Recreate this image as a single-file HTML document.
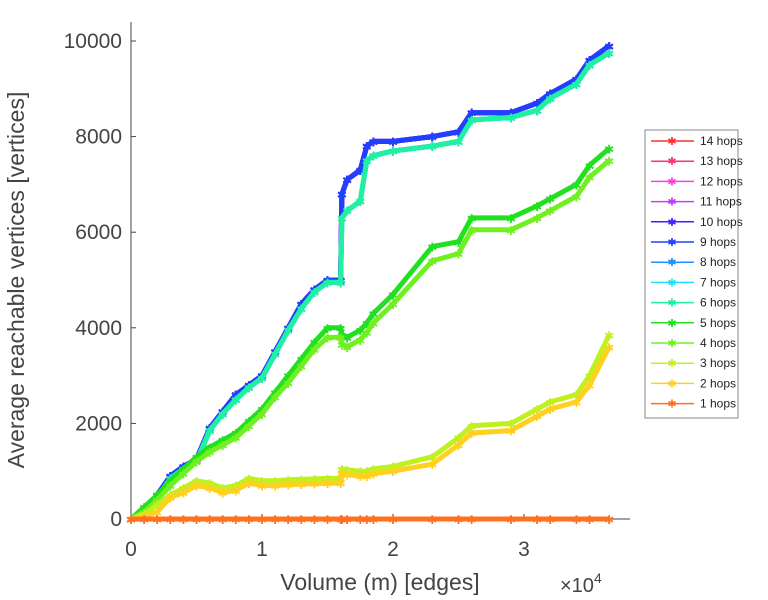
<!DOCTYPE html>
<html><head><meta charset="utf-8"><style>
body{margin:0;background:#fff}
svg{display:block;font-family:"Liberation Sans",sans-serif}
</style></head><body>
<svg id="c" width="768" height="600">
<g id="axes"></g>
<g id="series"></g>
<g id="legend"></g>
</svg>
<script>
const xVals = [0,0.1,0.2,0.3,0.4,0.5,0.6,0.7,0.8,0.9,1.0,1.1,1.2,1.3,1.4,1.5,1.6,1.61,1.65,1.75,1.8,1.85,2.0,2.3,2.5,2.6,2.9,3.1,3.2,3.4,3.5,3.65];
const highA = [0,200,500,900,1100,1250,1900,2250,2600,2800,3000,3500,4000,4500,4800,5000,5000,6800,7100,7300,7800,7900,7900,8000,8100,8500,8500,8700,8900,9200,9600,9900];
const highB = [0,150,450,850,1050,1200,1850,2200,2500,2750,2950,3450,3950,4400,4750,4950,4950,6300,6450,6650,7500,7600,7700,7800,7900,8350,8400,8550,8800,9100,9500,9750];
const g5 = [0,250,500,800,1050,1300,1500,1650,1800,2050,2300,2650,3000,3350,3700,4000,4000,3850,3800,3950,4100,4300,4700,5700,5800,6300,6300,6550,6700,7000,7400,7750];
const g4 = [0,150,400,700,950,1200,1400,1550,1700,1950,2200,2550,2850,3200,3550,3800,3800,3650,3600,3750,3900,4100,4500,5400,5550,6050,6050,6300,6450,6750,7150,7500];
const g3 = [0,100,300,500,650,800,750,650,700,850,800,800,820,830,840,850,850,1050,1030,1000,1000,1050,1100,1300,1700,1950,2000,2300,2450,2600,3000,3850];
const g2 = [0,50,150,450,550,700,650,550,600,750,700,700,720,730,740,750,750,950,930,900,900,950,1000,1150,1550,1800,1850,2150,2300,2450,2800,3600];
const g1 = [0,0,0,0,0,0,0,0,0,0,0,0,0,0,0,0,0,0,0,0,0,0,0,0,0,0,0,0,0,0,0,0];
const labels = ["14 hops","13 hops","12 hops","11 hops","10 hops","9 hops","8 hops","7 hops","6 hops","5 hops","4 hops","3 hops","2 hops","1 hops"];
const colors = ["#ff3030","#ff3080","#ff40e0","#c040ff","#4020ff","#2040ff","#2090ff","#20e0ff","#20f0a0","#20e020","#70f020","#c0f020","#ffd020","#ff7020"];
const seriesData = [highA,highA,highA,highA,highA,highA,highB,highB,highB,g5,g4,g3,g2,g1];
const xTicks = [0,1,2,3];
const yTicks = [0,2000,4000,6000,8000,10000];
const NS="http://www.w3.org/2000/svg";
const X = v => 131 + v*131;
const Y = v => 519 - v*0.0478;
function mk(tag,attrs,parent){const e=document.createElementNS(NS,tag);for(const k in attrs)e.setAttribute(k,attrs[k]);parent.appendChild(e);return e;}
const ax=document.getElementById('axes');
let l=mk('line',{x1:131,y1:22,x2:131,y2:519,stroke:'#444','stroke-width':1},ax);


l=mk('line',{x1:131,y1:519,x2:630,y2:519,stroke:'#444','stroke-width':1},ax);


yTicks.forEach(t=>{
  const tk=mk('line',{x1:131,y1:Y(t),x2:136,y2:Y(t),stroke:'#444'},ax);
  
  
  const tx=mk('text',{x:122,y:Y(t)+7,'text-anchor':'end','font-size':21,fill:'#444'},ax);
  tx.textContent=t;
  
  
});
xTicks.forEach(t=>{
  const tk=mk('line',{x1:X(t),y1:519,x2:X(t),y2:514,stroke:'#444'},ax);
  
  
  const tx=mk('text',{x:X(t),y:556,'text-anchor':'middle','font-size':21,fill:'#444'},ax);
  tx.textContent=t;
  
  
});
let tt=mk('text',{x:0,y:0,transform:'translate(24,280) rotate(-90)','text-anchor':'middle','font-size':23,fill:'#444'},ax);
tt.textContent='Average reachable vertices [vertices]';


tt=mk('text',{x:380,y:590,'text-anchor':'middle','font-size':23,fill:'#444'},ax);
tt.textContent='Volume (m) [edges]';


tt=mk('text',{x:560,y:592,'font-size':20,fill:'#444'},ax);
tt.innerHTML='×10<tspan dy="-9" font-size="14">4</tspan>';


const sg=document.getElementById('series');
seriesData.forEach((d,i)=>{
  const pts=d.map((v,j)=>X(xVals[j])+','+Y(v)).join(' ');
  const pl=mk('polyline',{points:pts,fill:'none',stroke:colors[i],'stroke-width':5,'stroke-linejoin':'round'},sg);
  
  
  d.forEach((v,j)=>{
    const m=mk('text',{x:X(xVals[j]),y:Y(v)+5,'text-anchor':'middle','font-size':12,fill:colors[i]},sg);
    m.textContent='✱';
    
    
  });
});
const lg=document.getElementById('legend');
const box=mk('rect',{x:645,y:130,width:93,height:288,fill:'#fff',stroke:'#888'},lg);


labels.forEach((s,i)=>{
  const y=141+i*20.2;
  const g=mk('g',{},lg);
  
  
  mk('line',{x1:651,y1:y,x2:694,y2:y,stroke:colors[i],'stroke-width':1.5},g);
  mk('text',{x:672,y:y+4,'text-anchor':'middle','font-size':11,fill:colors[i]},g).textContent='✱';
  mk('text',{x:700,y:y+4,'font-size':12,fill:'#222'},g).textContent=s;
});
</script>
</body></html>
